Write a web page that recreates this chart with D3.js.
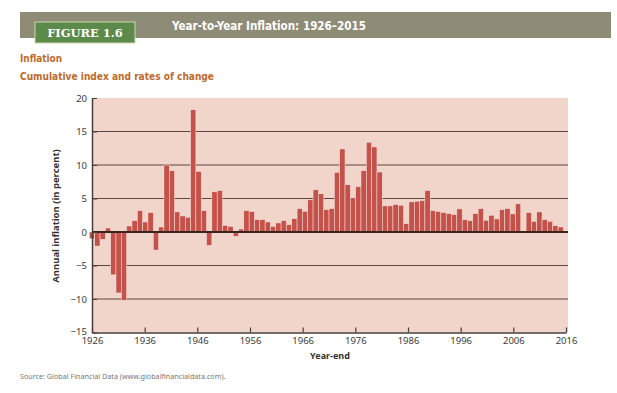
<!DOCTYPE html>
<html>
  <head>
    <meta charset="UTF-8">
    <title>Year-to-Year Inflation</title>
    <style>
      body { margin: 0; background: #fff; }
      svg text { font-family: "Liberation Sans Narrow", "DejaVu Sans Condensed", "Liberation Sans", sans-serif; }
      .axis path, .axis line { stroke: #4a3c38; }
      .axis text { fill: #3a3a3a; font-size: 9.5px; font-family: "Noto Sans", "DejaVu Sans", sans-serif; }
    </style>
    <script src="https://cdnjs.cloudflare.com/ajax/libs/d3/7.8.5/d3.min.js"></script>
  </head>
  <body>
    <div id="chart"></div>
    <script>
      // annual inflation in percent, one bar per year as drawn
      var inflation = [
        -1.0, -2.1, -1.1, 0.6, -6.4, -9.1, -10.2, 0.9, 1.7, 3.2,
        1.5, 2.9, -2.7, 0.75, 10.0, 9.15, 3.0, 2.4, 2.2, 18.25,
        9.05, 3.2, -2.0, 6.0, 6.2, 1.0, 0.85, -0.65, 0.45, 3.2,
        3.05, 1.85, 1.85, 1.5, 0.85, 1.35, 1.7, 1.1, 2.0, 3.5,
        3.1, 4.8, 6.3, 5.7, 3.35, 3.5, 8.9, 12.4, 7.05, 5.1,
        6.75, 9.15, 13.4, 12.7, 8.95, 3.9, 3.9, 4.1, 4.0, 1.25,
        4.5, 4.6, 4.7, 6.2, 3.2, 3.05, 2.9, 2.75, 2.6, 3.45,
        1.85, 1.7, 2.75, 3.5, 1.75, 2.5, 1.95, 3.35, 3.5, 2.7,
        4.2, 0.15, 2.9, 1.6, 3.0, 1.85, 1.6, 0.95, 0.75
      ];
      var yearTicks = [1926, 1936, 1946, 1956, 1966, 1976, 1986, 1996, 2006, 2016];
      var valueTicks = [-15, -10, -5, 0, 5, 10, 15, 20];
      var gridValues = [-10, -5, 5, 10, 15];

      var W = 617, H = 393;
      var svg = d3.select("#chart").append("svg")
        .attr("width", W)
        .attr("height", H);

      // header band
      svg.append("rect")
        .attr("x", 20).attr("y", 12).attr("width", 591).attr("height", 26)
        .attr("fill", "#8e8b77");
      svg.append("rect")
        .attr("x", 35).attr("y", 22).attr("width", 100).attr("height", 21)
        .attr("fill", "#5b8a4a")
        .attr("stroke", "#cfd9ad").attr("stroke-width", 1);
      svg.append("text")
        .attr("x", 85).attr("y", 37)
        .attr("text-anchor", "middle")
        .style("font-family", "'DejaVu Serif', 'Liberation Serif', serif")
        .style("font-weight", "bold")
        .style("font-size", "11.5px")
        .attr("fill", "#fff")
        .text("FIGURE 1.6");
      svg.append("text")
        .attr("x", 172).attr("y", 30)
        .attr("textLength", 194).attr("lengthAdjust", "spacingAndGlyphs")
        .style("font-weight", "bold")
        .style("font-size", "12.5px")
        .attr("fill", "#fff")
        .text("Year-to-Year Inflation: 1926–2015");

      svg.append("text")
        .attr("x", 20).attr("y", 62)
        .attr("textLength", 42).attr("lengthAdjust", "spacingAndGlyphs")
        .style("font-weight", "bold").style("font-size", "11px")
        .attr("fill", "#c06a2a")
        .text("Inflation");
      svg.append("text")
        .attr("x", 20).attr("y", 80)
        .attr("textLength", 194).attr("lengthAdjust", "spacingAndGlyphs")
        .style("font-weight", "bold").style("font-size", "11px")
        .attr("fill", "#c06a2a")
        .text("Cumulative index and rates of change");

      var x = d3.scaleLinear().domain([1926, 2016]).range([92, 566]);
      var y = d3.scaleLinear().domain([-15, 20]).range([332.5, 98]);
      var band = d3.scaleBand()
        .domain(d3.range(inflation.length))
        .range([x(1925.5), x(2015.5)])
        .padding(0);

      // plot background
      svg.append("rect")
        .attr("x", x(1926)).attr("y", y(20))
        .attr("width", 568 - x(1926)).attr("height", y(-15) - y(20))
        .attr("fill", "#f1d5cb");

      svg.append("g").selectAll("line")
        .data(gridValues)
        .enter().append("line")
          .attr("x1", x(1926)).attr("x2", 568)
          .attr("y1", function(d) { return y(d); })
          .attr("y2", function(d) { return y(d); })
          .attr("stroke", "#5e4640")
          .attr("stroke-width", 1.1);

      svg.append("g").selectAll("rect")
        .data(inflation)
        .enter().append("rect")
          .attr("x", function(d, i) { return band(i); })
          .attr("width", band.bandwidth())
          .attr("y", function(d) { return y(Math.max(0, d)); })
          .attr("height", function(d) { return Math.abs(y(d) - y(0)); })
          .attr("fill", "#c4524a")
          .attr("stroke", "#f7e6e0")
          .attr("stroke-width", 0.5);

      // zero line
      svg.append("line")
        .attr("x1", x(1926)).attr("x2", 568)
        .attr("y1", y(0)).attr("y2", y(0))
        .attr("stroke", "#3a2520")
        .attr("stroke-width", 2.2);

      var fmt = function(d) { return d < 0 ? "\u2212" + Math.abs(d) : d; };

      // y-axis
      svg.append("g")
        .attr("class", "axis")
        .attr("transform", "translate(" + x(1926) + ",0)")
        .call(d3.axisLeft(y).tickValues(valueTicks).tickFormat(fmt).tickSize(-5).tickSizeOuter(0).tickPadding(5))
        .call(function(g) {
          g.select(".domain").attr("stroke-width", 1.5);
          // lift the bottom label a touch so it clears the first year label
          g.selectAll(".tick text").filter(function(d) { return d === -15; }).attr("dy", "0.2em");
        });

      // x-axis
      svg.append("g")
        .attr("class", "axis")
        .attr("transform", "translate(0," + y(-15) + ")")
        .call(d3.axisBottom(x).tickValues(yearTicks).tickFormat(d3.format("d")).tickSize(-5).tickSizeOuter(0).tickPadding(5))
        .call(function(g) {
          g.select(".domain").attr("stroke-width", 1.5);
          g.selectAll(".tick line").attr("stroke-width", 1.2);
        });

      svg.append("text")
        .attr("x", 330).attr("y", 359)
        .attr("text-anchor", "middle")
        .style("font-family", "'Noto Sans', 'DejaVu Sans', sans-serif")
        .style("font-weight", "bold").style("font-size", "9px")
        .attr("fill", "#333")
        .text("Year-end");

      svg.append("text")
        .attr("transform", "translate(59,216) rotate(-90)")
        .attr("text-anchor", "middle")
        .style("font-family", "'Noto Sans', 'DejaVu Sans', sans-serif")
        .style("font-weight", "bold").style("font-size", "9.5px")
        .attr("fill", "#333")
        .text("Annual inflation (in percent)");

      svg.append("text")
        .attr("x", 20).attr("y", 379)
        .style("font-family", "'Noto Sans', 'DejaVu Sans', sans-serif")
        .style("font-size", "7.2px")
        .attr("fill", "#777")
        .text("Source: Global Financial Data (www.globalfinancialdata.com).");
    </script>
  </body>
</html>
